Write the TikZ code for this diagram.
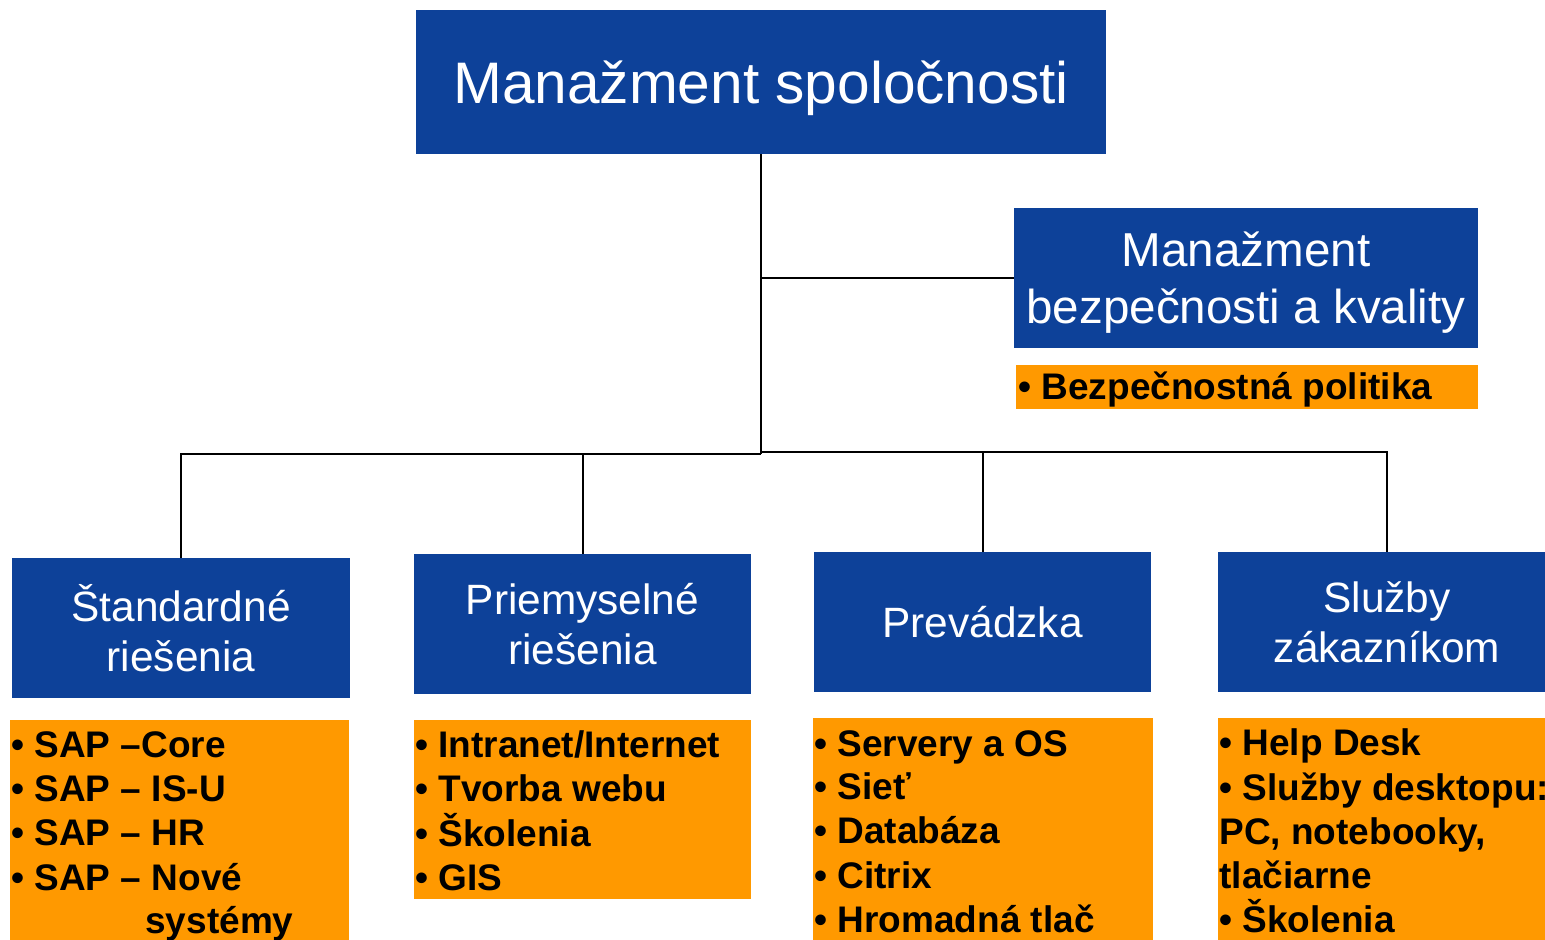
\documentclass[tikz,border=0pt]{standalone}
\usepackage{fontspec}
\newfontfamily\lsans{Liberation Sans}
\definecolor{myblue}{RGB}{13,65,153}
\definecolor{myorange}{RGB}{255,153,0}
\begin{document}
\begin{tikzpicture}[x=0.5pt,y=-0.5pt,
  bluebox/.style={fill=myblue, text=white, inner sep=0pt, align=center},
  orbox/.style={fill=myorange, inner sep=0pt},
  toptxt/.style={font=\lsans\fontsize{29.3}{35}\selectfont},
  midtxt/.style={font=\lsans\fontsize{23.8}{28.5}\selectfont},
  subtxt/.style={font=\lsans\fontsize{21.2}{25}\selectfont},
  item/.style={anchor=base west, inner sep=0pt, font=\lsans\bfseries\fontsize{18.5}{22}\selectfont},
  conn/.style={line width=1pt, black}]
\useasboundingbox (0,0) rectangle (1545,940);
\clip (0,0) rectangle (1545,940);
% blue boxes
\node[bluebox, toptxt, minimum width=345pt, minimum height=72pt] (top) at (761,82) {\raisebox{-3pt}[\height][\depth]{Manažment spoločnosti}};
\node[bluebox, minimum width=232pt, minimum height=70pt] (mbk) at (1246,278) {};
\node[text=white, align=center, midtxt, inner sep=0pt] (mbkt) at ([yshift=-2.5pt]mbk.center) {Manažment\\bezpečnosti a kvality};
\node[bluebox, subtxt, minimum width=169pt, minimum height=70pt] (s1) at (181,628) {Štandardné\\riešenia};
\node[bluebox, subtxt, minimum width=168.5pt, minimum height=70pt] (s2) at (582.5,624) {Priemyselné\\riešenia};
\node[bluebox, subtxt, minimum width=168.5pt, minimum height=70pt] (s3) at (982.5,622) {Prevádzka};
\node[bluebox, subtxt, minimum width=169pt, minimum height=70pt] (s4) at (1387,622) {Služby\\zákazníkom};
% orange boxes
\node[orbox, minimum width=231pt, minimum height=22pt] (o0) at (1247,387) {};
\node[orbox, minimum width=169.5pt, minimum height=120pt] (o1) at (179.5,840) {};
\node[orbox, minimum width=168.5pt, minimum height=89.5pt] (o2) at (582.5,809.5) {};
\node[orbox, minimum width=170pt, minimum height=121pt] (o3) at (983,839) {};
\node[orbox, minimum width=170pt, minimum height=121pt] (o4) at (1388,839) {};
% items
\node[item] (t0) at (1018,400) {• Bezpečnostná politika};
\node[item] (t11) at (11,757) {• SAP –Core};
\node[item] (t12) at (11,801) {• SAP – IS-U};
\node[item] (t13) at (11,845) {• SAP – HR};
\node[item] (t14) at (11,890) {• SAP – Nové};
\node[item] (t15) at (145,933) {systémy};
\node[item] (t21) at (415,757) {• Intranet/Internet};
\node[item] (t22) at (415,801) {• Tvorba webu};
\node[item] (t23) at (415,846) {• Školenia};
\node[item] (t24) at (415,890) {• GIS};
\node[item] (t31) at (814,756) {• Servery a OS};
\node[item] (t32) at (814,799) {• Sieť};
\node[item] (t33) at (814,843) {• Databáza};
\node[item] (t34) at (814,888) {• Citrix};
\node[item] (t35) at (814,932) {• Hromadná tlač};
\node[item] (t41) at (1219,755) {• Help Desk};
\node[item] (t42) at (1219,800) {• Služby desktopu:};
\node[item] (t43) at (1219,844) {PC, notebooky,};
\node[item] (t44) at (1219,888) {tlačiarne};
\node[item] (t45) at (1219,932) {• Školenia};
% connectors
\coordinate (busl) at (761,454);
\coordinate (busr) at (761,452);
\draw[conn] (top.south) -- (busl);
\draw[conn] (top.south |- mbk.west) -- (mbk.west);
\draw[conn] (s1.north) |- (busl);
\draw[conn] (s2.north) |- (busl);
\draw[conn] (s3.north) |- (busr);
\draw[conn] (s4.north) |- (busr);
\end{tikzpicture}
\end{document}
